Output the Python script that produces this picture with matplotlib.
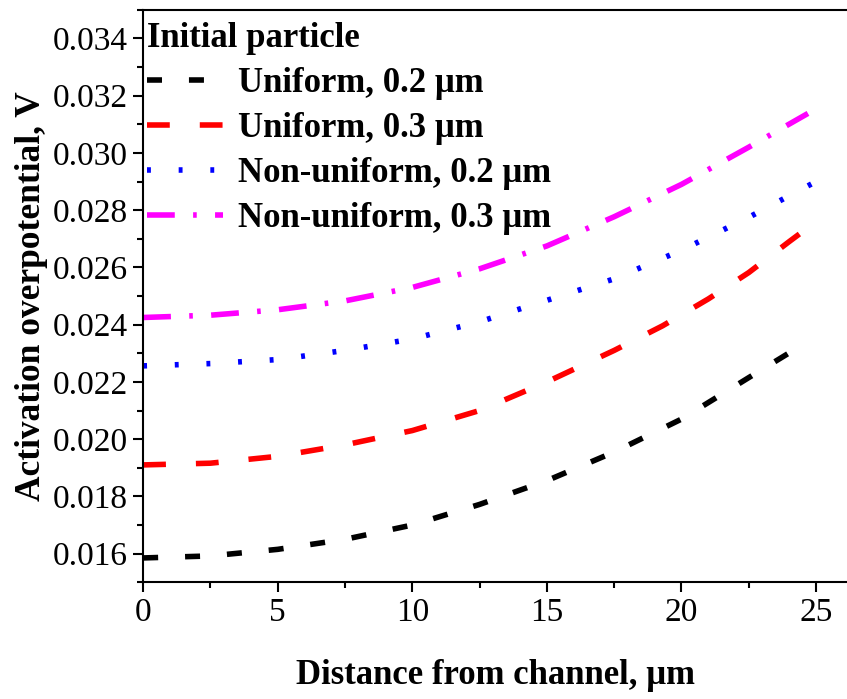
import matplotlib
matplotlib.use("Agg")
import matplotlib.pyplot as plt
from matplotlib.ticker import MultipleLocator, FormatStrFormatter

plt.rcParams['font.family'] = ['Liberation Serif', 'DejaVu Serif']

x_black = [0, 2.5, 5, 7.5, 10, 12.5, 15, 17.5, 20, 22.5, 24.5]
y_black = [0.01585, 0.01592, 0.01615, 0.0165, 0.0170, 0.01772, 0.01855, 0.01955, 0.0207, 0.02215, 0.0233]

x_red = [0, 2.5, 5, 7.5, 10, 12.5, 15, 17.5, 19.3, 21.0, 22.5, 24.0, 24.5]
y_red = [0.0191, 0.01916, 0.0194, 0.0198, 0.0203, 0.0210, 0.0220, 0.0231, 0.02396, 0.0249, 0.02582, 0.0269, 0.02725]

x_blue = [0, 2.5, 5, 7.5, 10, 12.5, 15, 17.5, 20, 22.5, 25]
y_blue = [0.02256, 0.02264, 0.02278, 0.0231, 0.0235, 0.0241, 0.02485, 0.0256, 0.0266, 0.02775, 0.0290]

x_mag = [0, 2.5, 5, 7.5, 10, 12.5, 15, 17.5, 20, 22.5, 24.7]
y_mag = [0.02425, 0.02433, 0.02452, 0.02483, 0.0253, 0.02595, 0.02675, 0.02777, 0.0289, 0.0302, 0.03138]

labels = ['Uniform, 0.2 μm', 'Uniform, 0.3 μm', 'Non-uniform, 0.2 μm', 'Non-uniform, 0.3 μm']

fig = plt.figure(figsize=(8.47, 6.99), dpi=100)
ax = fig.add_axes([0.169, 0.167, 0.831, 0.819])

lw = 4
ax.plot(x_black, y_black, color='black', lw=lw, dashes=(2.7, 4.85), label=labels[0])
ax.plot(x_red, y_red, color='#ff0000', lw=lw, dashes=(4.1, 5.4), label=labels[1])
ax.plot(x_blue, y_blue, color='#0000ff', lw=lw, dashes=(0.7, 5.0), label=labels[2])
ax.plot(x_mag, y_mag, color='#ff00ff', lw=lw, dashes=(5.0, 3.3, 0.65, 3.3), label=labels[3])

ax.set_xlim(0, 26.15)
ax.set_ylim(0.015, 0.035)
ax.xaxis.set_major_locator(MultipleLocator(5))
ax.xaxis.set_minor_locator(MultipleLocator(2.5))
ax.yaxis.set_major_locator(MultipleLocator(0.002))
ax.yaxis.set_minor_locator(MultipleLocator(0.001))
ax.yaxis.set_major_formatter(FormatStrFormatter('%.3f'))
ax.tick_params(which='major', direction='out', length=7, width=1.5, labelsize=24, pad=4)
ax.tick_params(which='minor', direction='out', length=4, width=1.5)
ax.spines['right'].set_visible(False)
for s in ['left', 'bottom', 'top']:
    ax.spines[s].set_linewidth(1.5)

ax.set_xlabel('Distance from channel, μm', fontsize=25, fontweight='bold', labelpad=22)
ax.set_ylabel('Activation overpotential, V', fontsize=25.5, fontweight='bold', labelpad=3)

leg = ax.legend(title='Initial particle', loc='upper left', frameon=False,
                prop={'size': 25, 'weight': 'bold'}, handlelength=2.2, handletextpad=0.42,
                labelspacing=0.35, borderaxespad=0.0, borderpad=0.1,
                bbox_to_anchor=(0.0, 0.985))
leg.get_title().set_fontsize(25)
leg.get_title().set_fontweight('bold')
leg._legend_box.align = 'left'

fig.savefig('out.png', dpi=100)
